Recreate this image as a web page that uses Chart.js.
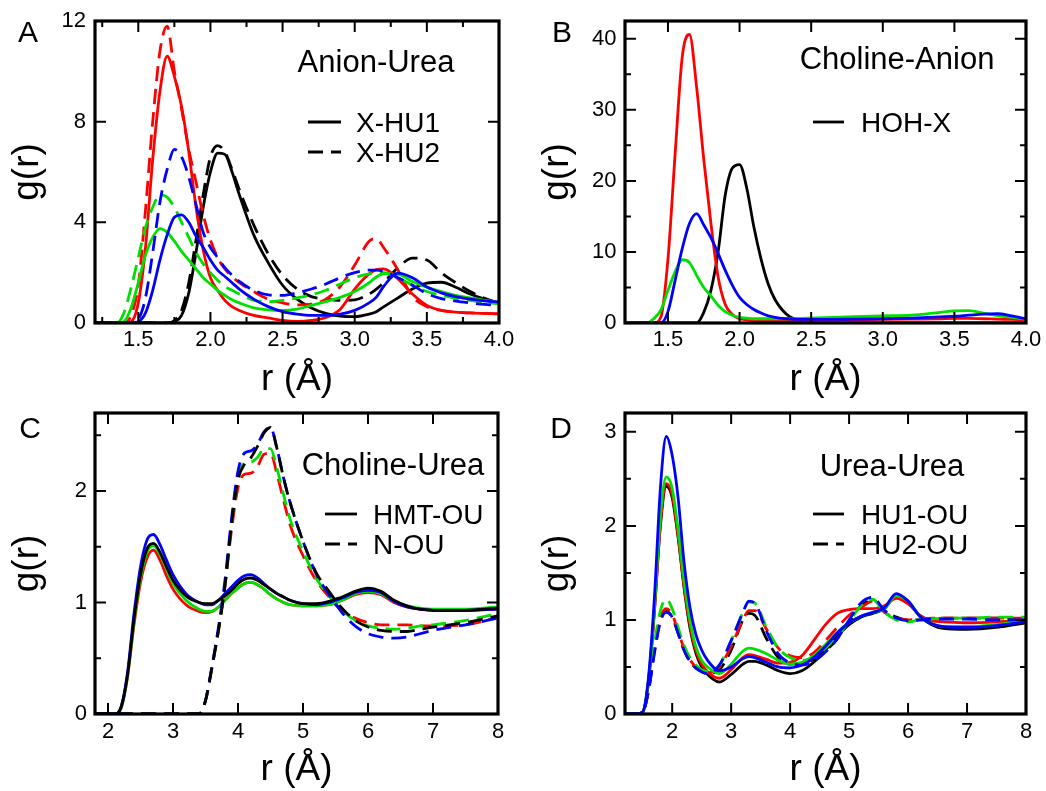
<!DOCTYPE html>
<html>
<head>
<meta charset="utf-8">
<script src="https://cdn.jsdelivr.net/npm/chart.js@4.4.1/dist/chart.umd.min.js"></script>
<style>
  html, body { margin: 0; padding: 0; background: #fff; overflow: hidden; }
  #page { position: relative; width: 1046px; height: 791px; }
  canvas { position: absolute; }
</style>
</head>
<body>
<div id="page">
  <canvas id="chartA" width="523" height="410" style="left:0;top:0"></canvas>
  <canvas id="chartB" width="523" height="410" style="left:523px;top:0"></canvas>
  <canvas id="chartC" width="523" height="396" style="left:0;top:395px"></canvas>
  <canvas id="chartD" width="523" height="396" style="left:523px;top:395px"></canvas>
</div>
<script>
const FONT = '"Liberation Sans", Arial, Helvetica, sans-serif';
const BLACK = '#000000', RED = '#ff0000', GREEN = '#00e000', BLUE = '#0000ff';
const DASH = [15, 8];

// ---- A: Anion-Urea ----
const rA = [1.2, 1.3, 1.35, 1.4, 1.45, 1.5, 1.55, 1.6, 1.65, 1.7, 1.75, 1.8, 1.85, 1.9, 1.95, 2.0, 2.05, 2.1, 2.15, 2.2,
  2.3, 2.4, 2.5, 2.6, 2.7, 2.8, 2.9, 3.0, 3.1, 3.15, 3.2, 3.3, 3.4, 3.5, 3.6, 3.7, 3.8, 3.9, 4.0];
const aRedHU1 = [0, 0, 0, 0, 0.05, 0.8, 3.0, 6.5, 9.2, 10.6, 9.8, 8.6, 6.8, 4.6, 2.9, 1.8, 1.3, 0.9, 0.65, 0.5,
  0.3, 0.2, 0.1, 0.06, 0.1, 0.22, 0.55, 1.35, 1.95, 2.12, 2.15, 1.75, 1.15, 0.7, 0.5, 0.43, 0.4, 0.38, 0.36];
const aRedHU2 = [0, 0, 0, 0, 0.3, 1.5, 4.5, 8.0, 10.8, 11.8, 10.0, 8.5, 6.9, 5.6, 4.3, 3.3, 2.6, 2.15, 1.85, 1.6,
  1.25, 0.95, 0.8, 0.72, 0.75, 0.95, 1.45, 2.3, 3.25, 3.35, 3.0, 2.1, 1.05, 0.65, 0.5, 0.43, 0.4, 0.38, 0.36];
const aBlackHU1 = [0, 0, 0, 0, 0, 0, 0, 0, 0, 0, 0.05, 0.3, 1.2, 2.8, 4.6, 6.0, 6.75, 6.7, 6.0, 5.1,
  3.5, 2.4, 1.5, 0.95, 0.6, 0.38, 0.27, 0.25, 0.35, 0.45, 0.64, 1.0, 1.35, 1.58, 1.62, 1.42, 1.15, 0.95, 0.8];
const aBlackHU2 = [0, 0, 0, 0, 0, 0, 0, 0, 0, 0, 0.1, 0.5, 1.6, 3.3, 5.1, 6.6, 7.05, 6.8, 6.1, 5.3,
  3.9, 2.75, 1.9, 1.35, 1.05, 0.95, 0.9, 0.92, 1.15, 1.35, 1.6, 2.2, 2.58, 2.5, 2.0, 1.6, 1.25, 0.98, 0.77];
const aBlueHU1 = [0, 0, 0, 0, 0, 0.05, 0.4, 1.3, 2.5, 3.5, 4.2, 4.3, 4.0, 3.45, 3.0, 2.5, 2.1, 1.85, 1.6, 1.35,
  0.95, 0.65, 0.45, 0.35, 0.3, 0.3, 0.35, 0.5, 0.8, 1.03, 1.45, 1.98, 1.8, 1.43, 1.2, 1.05, 0.95, 0.88, 0.83];
const aBlueHU2 = [0, 0, 0, 0, 0, 0.15, 1.0, 2.8, 4.8, 6.1, 6.9, 6.6, 5.8, 4.7, 3.6, 3.0, 2.6, 2.2, 1.9, 1.65,
  1.3, 1.12, 1.1, 1.2, 1.35, 1.55, 1.8, 2.0, 2.1, 2.1, 2.05, 1.8, 1.5, 1.17, 0.97, 0.87, 0.8, 0.74, 0.7];
const aGreenHU1 = [0, 0, 0, 0.05, 0.6, 1.6, 2.7, 3.4, 3.75, 3.6, 3.25, 2.85, 2.5, 2.15, 1.8, 1.55, 1.3, 1.1, 0.92, 0.8,
  0.6, 0.52, 0.5, 0.55, 0.7, 0.85, 1.02, 1.25, 1.6, 1.83, 1.95, 1.93, 1.65, 1.42, 1.25, 1.1, 1.0, 0.9, 0.82];
const aGreenHU2 = [0, 0, 0, 0.4, 1.4, 2.6, 3.8, 4.6, 5.1, 5.0, 4.6, 4.0, 3.4, 2.8, 2.35, 2.0, 1.7, 1.45, 1.3, 1.15,
  0.9, 0.85, 0.9, 1.0, 1.12, 1.3, 1.55, 1.8, 1.95, 2.0, 2.0, 1.8, 1.5, 1.25, 1.1, 0.98, 0.9, 0.82, 0.77];

// ---- B: Choline-Anion ----
const rB = [1.2, 1.3, 1.35, 1.4, 1.45, 1.5, 1.55, 1.6, 1.65, 1.7, 1.75, 1.8, 1.85, 1.9, 1.95, 2.0, 2.05, 2.1, 2.15, 2.2,
  2.25, 2.3, 2.35, 2.4, 2.5, 2.6, 2.8, 3.0, 3.2, 3.4, 3.5, 3.6, 3.7, 3.8, 3.9, 4.0];
const bRed = [0, 0, 0, 0, 0.8, 9.0, 23.8, 37.5, 40.6, 33.2, 23.0, 14.0, 6.5, 2.6, 1.2, 0.6, 0.45, 0.35, 0.3, 0.3,
  0.3, 0.3, 0.3, 0.3, 0.35, 0.4, 0.45, 0.5, 0.55, 0.6, 0.65, 0.65, 0.6, 0.55, 0.5, 0.45];
const bGreen = [0, 0, 0, 0.6, 1.8, 4.6, 7.2, 8.9, 8.5, 6.7, 5.0, 3.8, 2.5, 1.6, 1.1, 0.8, 0.7, 0.6, 0.6, 0.6,
  0.6, 0.6, 0.6, 0.65, 0.7, 0.75, 0.9, 1.0, 1.1, 1.5, 1.7, 1.75, 1.4, 1.05, 0.8, 0.55];
const bBlue = [0, 0, 0, 0, 0, 1.6, 6.0, 10.5, 14.0, 15.4, 13.8, 12.0, 9.8, 7.4, 5.3, 3.6, 2.6, 1.9, 1.4, 1.0,
  0.8, 0.65, 0.58, 0.52, 0.5, 0.5, 0.55, 0.6, 0.7, 0.85, 0.95, 1.1, 1.25, 1.3, 1.0, 0.6];
const bBlack = [0, 0, 0, 0, 0, 0, 0, 0, 0, 0, 1.5, 4.6, 10.0, 18.0, 21.8, 22.3, 19.0, 13.5, 9.0, 5.5,
  3.2, 1.8, 0.9, 0.5, 0.1, 0, 0, 0, 0, 0, 0, 0, 0, 0, 0, 0];

// ---- C: Choline-Urea ----
const rC = [1.8, 2.0, 2.1, 2.2, 2.3, 2.4, 2.5, 2.6, 2.7, 2.8, 2.9, 3.0, 3.2, 3.4, 3.5, 3.6, 3.7, 3.8, 3.9, 4.0,
  4.1, 4.2, 4.3, 4.4, 4.5, 4.6, 4.7, 4.8, 5.0, 5.2, 5.4, 5.5, 5.6, 5.8, 6.0, 6.2, 6.4, 6.6, 6.8, 7.0, 7.5, 8.0];
const cBlackHMT = [0, 0, 0, 0.06, 0.35, 0.85, 1.25, 1.48, 1.53, 1.45, 1.32, 1.2, 1.06, 1.0, 0.99, 0.99, 1.02, 1.06, 1.11, 1.17,
  1.21, 1.22, 1.2, 1.16, 1.12, 1.08, 1.05, 1.02, 0.99, 0.99, 1.01, 1.03, 1.05, 1.1, 1.13, 1.1, 1.02, 0.97, 0.94, 0.93, 0.93, 0.95];
const cBlueHMT = [0, 0, 0, 0.06, 0.37, 0.9, 1.32, 1.56, 1.61, 1.52, 1.38, 1.25, 1.08, 1.0, 0.98, 0.98, 1.02, 1.08, 1.14, 1.2,
  1.24, 1.25, 1.22, 1.17, 1.12, 1.08, 1.05, 1.02, 0.99, 0.98, 1.0, 1.02, 1.04, 1.09, 1.11, 1.09, 1.01, 0.96, 0.94, 0.93, 0.93, 0.94];
const cRedHMT = [0, 0, 0, 0.05, 0.33, 0.8, 1.18, 1.4, 1.47, 1.38, 1.24, 1.12, 0.98, 0.92, 0.91, 0.92, 0.96, 1.02, 1.08, 1.13,
  1.17, 1.18, 1.16, 1.12, 1.07, 1.03, 1.0, 0.98, 0.97, 0.97, 0.98, 1.0, 1.02, 1.07, 1.09, 1.07, 1.0, 0.96, 0.94, 0.93, 0.93, 0.94];
const cGreenHMT = [0, 0, 0, 0.05, 0.34, 0.83, 1.22, 1.45, 1.51, 1.43, 1.3, 1.17, 1.02, 0.94, 0.92, 0.92, 0.96, 1.02, 1.08, 1.13,
  1.17, 1.18, 1.16, 1.12, 1.07, 1.03, 1.0, 0.98, 0.97, 0.97, 0.98, 1.0, 1.02, 1.08, 1.1, 1.08, 1.01, 0.97, 0.95, 0.94, 0.94, 0.96];
const cBlackN = [0, 0, 0, 0, 0, 0, 0, 0, 0, 0, 0, 0, 0, 0, 0.12, 0.42, 0.75, 1.15, 1.7, 2.1,
  2.24, 2.3, 2.4, 2.52, 2.57, 2.38, 2.12, 1.9, 1.55, 1.27, 1.1, 1.02, 0.95, 0.84, 0.78, 0.75, 0.74, 0.74, 0.76, 0.78, 0.82, 0.88];
const cBlueN = [0, 0, 0, 0, 0, 0, 0, 0, 0, 0, 0, 0, 0, 0, 0.12, 0.43, 0.78, 1.2, 1.75, 2.18,
  2.34, 2.36, 2.42, 2.53, 2.57, 2.38, 2.12, 1.9, 1.55, 1.26, 1.07, 0.99, 0.91, 0.79, 0.72, 0.69, 0.68, 0.69, 0.72, 0.75, 0.8, 0.86];
const cRedN = [0, 0, 0, 0, 0, 0, 0, 0, 0, 0, 0, 0, 0, 0, 0.12, 0.42, 0.75, 1.15, 1.65, 2.03,
  2.15, 2.16, 2.22, 2.33, 2.34, 2.15, 1.92, 1.7, 1.42, 1.2, 1.05, 0.98, 0.93, 0.86, 0.82, 0.8, 0.8, 0.8, 0.79, 0.79, 0.8, 0.87];
const cGreenN = [0, 0, 0, 0, 0, 0, 0, 0, 0, 0, 0, 0, 0, 0, 0.12, 0.42, 0.76, 1.17, 1.7, 2.12,
  2.25, 2.26, 2.3, 2.38, 2.38, 2.2, 1.97, 1.75, 1.46, 1.22, 1.06, 0.99, 0.93, 0.84, 0.79, 0.77, 0.76, 0.77, 0.79, 0.8, 0.84, 0.9];

// ---- D: Urea-Urea ----
const rD = [1.2, 1.4, 1.5, 1.6, 1.7, 1.8, 1.9, 2.0, 2.1, 2.2, 2.3, 2.4, 2.5, 2.6, 2.8, 3.0, 3.2, 3.3, 3.4,
  3.6, 3.8, 4.0, 4.2, 4.4, 4.6, 4.8, 5.0, 5.2, 5.4, 5.6, 5.8, 6.0, 6.2, 6.4, 6.6, 7.0, 7.5, 8.0];
const dBlackHU1 = [0, 0, 0.02, 0.35, 1.1, 2.0, 2.42, 2.3, 1.88, 1.35, 0.92, 0.65, 0.5, 0.42, 0.34, 0.42, 0.53, 0.56, 0.56,
  0.52, 0.46, 0.43, 0.46, 0.55, 0.68, 0.83, 0.95, 1.03, 1.07, 1.12, 1.26, 1.2, 1.04, 0.95, 0.91, 0.9, 0.92, 0.97];
const dBlueHU1 = [0, 0, 0.02, 0.4, 1.25, 2.4, 2.95, 2.75, 2.3, 1.62, 1.14, 0.85, 0.68, 0.57, 0.46, 0.5, 0.59, 0.61, 0.6,
  0.55, 0.5, 0.49, 0.52, 0.6, 0.72, 0.86, 0.97, 1.04, 1.08, 1.13, 1.28, 1.2, 1.04, 0.96, 0.93, 0.92, 0.94, 0.98];
const dRedHU1 = [0, 0, 0.02, 0.36, 1.12, 2.03, 2.45, 2.33, 1.9, 1.37, 0.95, 0.68, 0.53, 0.45, 0.38, 0.47, 0.6, 0.63, 0.62,
  0.58, 0.54, 0.55, 0.62, 0.78, 0.95, 1.07, 1.11, 1.12, 1.12, 1.15, 1.23, 1.17, 1.05, 0.99, 0.98, 0.97, 0.98, 1.0];
const dGreenHU1 = [0, 0, 0.02, 0.37, 1.15, 2.1, 2.52, 2.4, 1.96, 1.42, 1.0, 0.72, 0.57, 0.5, 0.43, 0.53, 0.67, 0.7, 0.69,
  0.64, 0.57, 0.53, 0.55, 0.62, 0.74, 0.87, 0.97, 1.04, 1.08, 1.12, 1.26, 1.2, 1.04, 0.96, 0.93, 0.93, 0.95, 0.99];
const dBlackHU2 = [0, 0, 0.02, 0.25, 0.67, 1.0, 1.09, 1.03, 0.86, 0.68, 0.56, 0.49, 0.45, 0.43, 0.47, 0.68, 1.0, 1.07, 1.05,
  0.8, 0.6, 0.53, 0.54, 0.58, 0.67, 0.8, 0.98, 1.15, 1.21, 1.1, 1.03, 1.0, 1.0, 1.01, 1.02, 1.02, 1.02, 1.01];
const dBlueHU2 = [0, 0, 0.02, 0.25, 0.65, 0.98, 1.08, 1.03, 0.86, 0.68, 0.56, 0.49, 0.45, 0.43, 0.52, 0.78, 1.08, 1.2, 1.18,
  0.88, 0.64, 0.54, 0.52, 0.56, 0.66, 0.8, 1.0, 1.18, 1.24, 1.1, 1.02, 0.99, 1.0, 1.01, 1.01, 1.01, 1.0, 1.0];
const dRedHU2 = [0, 0, 0.02, 0.26, 0.7, 1.02, 1.12, 1.06, 0.88, 0.7, 0.58, 0.5, 0.46, 0.44, 0.5, 0.72, 1.0, 1.1, 1.1,
  0.9, 0.7, 0.62, 0.6, 0.65, 0.78, 0.92, 1.05, 1.13, 1.2, 1.08, 1.02, 1.0, 1.01, 1.02, 1.02, 1.02, 1.02, 1.02];
const dGreenHU2 = [0, 0, 0.02, 0.28, 0.75, 1.1, 1.22, 1.12, 0.92, 0.73, 0.6, 0.52, 0.47, 0.45, 0.52, 0.78, 1.08, 1.19, 1.18,
  0.92, 0.7, 0.6, 0.57, 0.6, 0.7, 0.83, 0.98, 1.15, 1.22, 1.08, 1.0, 0.98, 1.0, 1.01, 1.02, 1.02, 1.03, 1.03];

// tick values
const xTicksAB = [1.5, 2.0, 2.5, 3.0, 3.5, 4.0];
const xMinorA = [1.25, 1.75, 2.25, 2.75, 3.25, 3.75];
const yTicksA = [0, 4, 8, 12];
const yTicksB = [0, 10, 20, 30, 40];
const yMinorB = [5, 15, 25, 35];
const xTicksCD = [2, 3, 4, 5, 6, 7, 8];
const yTicksC = [0, 1, 2];
const yTicksD = [0, 1, 2, 3];
const yMinorCD = [0.5, 1.5, 2.5];

Chart.defaults.font.family = FONT;
Chart.defaults.color = '#000';

function series(r, g, color, dashed) {
  return {
    data: r.map((x, i) => ({ x: x, y: g[i] })),
    borderColor: color,
    borderWidth: 2.8,
    borderDash: dashed ? DASH : [],
    pointRadius: 0,
    fill: false,
    cubicInterpolationMode: 'monotone'
  };
}

// frame, inward ticks, panel letter, title and legend
function deco(p) {
  return {
    id: 'deco' + p.letter,
    afterDatasetsDraw(chart) {
      const { ctx, chartArea: a, scales: { x, y } } = chart;
      ctx.save();
      ctx.strokeStyle = '#000';
      ctx.setLineDash([]);
      ctx.lineWidth = 2;
      ctx.beginPath();
      const xt = (vals, len) => vals.forEach(v => {
        const px = x.getPixelForValue(v);
        ctx.moveTo(px, a.bottom); ctx.lineTo(px, a.bottom - len);
        ctx.moveTo(px, a.top); ctx.lineTo(px, a.top + len);
      });
      const yt = (vals, len) => vals.forEach(v => {
        const py = y.getPixelForValue(v);
        ctx.moveTo(a.left, py); ctx.lineTo(a.left + len, py);
        ctx.moveTo(a.right, py); ctx.lineTo(a.right - len, py);
      });
      xt(p.xTicks, 11); xt(p.xMinor, 6);
      yt(p.yTicks, 11); yt(p.yMinor, 6);
      ctx.stroke();
      ctx.lineWidth = 3.2;
      ctx.strokeRect(a.left, a.top, a.right - a.left, a.bottom - a.top);

      ctx.fillStyle = '#000';
      ctx.textBaseline = 'alphabetic';
      ctx.textAlign = 'center';
      ctx.font = '30px ' + FONT;
      ctx.fillText(p.letter, p.letterAt[0], p.letterAt[1]);
      ctx.font = '31px ' + FONT;
      ctx.fillText(p.title, p.titleAt[0], p.titleAt[1]);

      ctx.textAlign = 'left';
      ctx.font = '28px ' + FONT;
      ctx.lineWidth = 2.8;
      p.legend.forEach((row, i) => {
        ctx.setLineDash(i === 0 ? [] : DASH);
        ctx.beginPath();
        ctx.moveTo(p.leg.x0, row.y);
        ctx.lineTo(p.leg.x1, row.y);
        ctx.stroke();
        ctx.fillText(row.text, p.leg.tx, row.y + 10);
      });
      ctx.restore();
    }
  };
}

function makeChart(id, p, datasets) {
  return new Chart(document.getElementById(id), {
    type: 'line',
    data: { datasets: datasets },
    options: {
      responsive: false,
      animation: false,
      layout: { padding: { top: p.pad[0], right: p.pad[1], bottom: 0, left: 0 } },
      plugins: { legend: { display: false }, tooltip: { enabled: false } },
      scales: {
        x: {
          type: 'linear', min: p.xMin, max: p.xMax,
          afterFit: s => { s.height = p.xH; },
          afterBuildTicks: s => { s.ticks = p.xTicks.map(v => ({ value: v })); },
          grid: { display: false, drawTicks: true, tickLength: p.xLabGap },
          border: { display: false },
          ticks: {
            autoSkip: false, maxRotation: 0, padding: 0, color: '#000',
            font: { size: 22, lineHeight: 1 },
            callback: v => p.xDec ? v.toFixed(1) : String(v)
          },
          title: {
            display: true, text: 'r (Å)', color: '#000',
            font: { size: 37, lineHeight: 0.8 },
            padding: { top: 0, bottom: p.xTitlePad }
          }
        },
        y: {
          type: 'linear', min: p.yMin, max: p.yMax,
          afterFit: s => { s.width = p.yW; },
          afterBuildTicks: s => { s.ticks = p.yTicks.map(v => ({ value: v })); },
          grid: { display: false, drawTicks: true, tickLength: p.yLabGap },
          border: { display: false },
          ticks: {
            autoSkip: false, padding: 0, color: '#000',
            font: { size: 22, lineHeight: 1 },
            callback: v => String(v)
          },
          title: {
            display: true, text: 'g(r)', color: '#000',
            font: { size: 37, lineHeight: 0.8 },
            padding: { top: p.yTitlePad, bottom: 0 }
          }
        }
      }
    },
    plugins: [deco(p)]
  });
}

makeChart('chartA', {
  letter: 'A', letterAt: [28, 42], title: 'Anion-Urea', titleAt: [376, 72],
  legend: [{ text: 'X-HU1', y: 122 }, { text: 'X-HU2', y: 152 }], leg: { x0: 308, x1: 341, tx: 356 },
  pad: [21, 24], xH: 87, yW: 95, xLabGap: 6, yLabGap: 9, xTitlePad: 15.2, yTitlePad: 12.6,
  xMin: 1.2, xMax: 4.0, yMin: 0, yMax: 12, xDec: true,
  xTicks: xTicksAB, xMinor: xMinorA, yTicks: yTicksA, yMinor: []
}, [
  series(rA, aBlueHU1, BLUE, false), series(rA, aBlueHU2, BLUE, true),
  series(rA, aGreenHU1, GREEN, false), series(rA, aGreenHU2, GREEN, true),
  series(rA, aRedHU1, RED, false), series(rA, aRedHU2, RED, true),
  series(rA, aBlackHU1, BLACK, false), series(rA, aBlackHU2, BLACK, true)
]);

makeChart('chartB', {
  letter: 'B', letterAt: [39, 42], title: 'Choline-Anion', titleAt: [374, 69],
  legend: [{ text: 'HOH-X', y: 122 }], leg: { x0: 290, x1: 321, tx: 338 },
  pad: [21, 20], xH: 87, yW: 102, xLabGap: 6, yLabGap: 8.5, xTitlePad: 15.2, yTitlePad: 19.9,
  xMin: 1.2, xMax: 4.0, yMin: 0, yMax: 42.5, xDec: true,
  xTicks: xTicksAB, xMinor: [], yTicks: yTicksB, yMinor: yMinorB
}, [
  series(rB, bBlue, BLUE, false), series(rB, bGreen, GREEN, false),
  series(rB, bRed, RED, false), series(rB, bBlack, BLACK, false)
]);

makeChart('chartC', {
  letter: 'C', letterAt: [30, 43], title: 'Choline-Urea', titleAt: [393, 80],
  legend: [{ text: 'HMT-OU', y: 119 }, { text: 'N-OU', y: 149 }], leg: { x0: 325, x1: 357, tx: 373 },
  pad: [18, 25], xH: 77, yW: 95, xLabGap: 6.7, yLabGap: 8, xTitlePad: 6.2, yTitlePad: 12.6,
  xMin: 1.8, xMax: 8, yMin: 0, yMax: 2.7, xDec: false,
  xTicks: xTicksCD, xMinor: [], yTicks: yTicksC, yMinor: yMinorCD
}, [
  series(rC, cBlackHMT, BLACK, false), series(rC, cBlackN, BLACK, true),
  series(rC, cBlueHMT, BLUE, false), series(rC, cBlueN, BLUE, true),
  series(rC, cGreenHMT, GREEN, false), series(rC, cGreenN, GREEN, true),
  series(rC, cRedHMT, RED, false), series(rC, cRedN, RED, true)
]);

makeChart('chartD', {
  letter: 'D', letterAt: [38, 43], title: 'Urea-Urea', titleAt: [369, 81],
  legend: [{ text: 'HU1-OU', y: 119 }, { text: 'HU2-OU', y: 149 }], leg: { x0: 290, x1: 321, tx: 338 },
  pad: [18, 20], xH: 77, yW: 102, xLabGap: 6.7, yLabGap: 8.5, xTitlePad: 6.2, yTitlePad: 19.9,
  xMin: 1.2, xMax: 8, yMin: 0, yMax: 3.2, xDec: false,
  xTicks: xTicksCD, xMinor: [], yTicks: yTicksD, yMinor: yMinorCD
}, [
  series(rD, dBlueHU1, BLUE, false), series(rD, dBlueHU2, BLUE, true),
  series(rD, dGreenHU1, GREEN, false), series(rD, dGreenHU2, GREEN, true),
  series(rD, dRedHU1, RED, false), series(rD, dRedHU2, RED, true),
  series(rD, dBlackHU1, BLACK, false), series(rD, dBlackHU2, BLACK, true)
]);
</script>
</body>
</html>
